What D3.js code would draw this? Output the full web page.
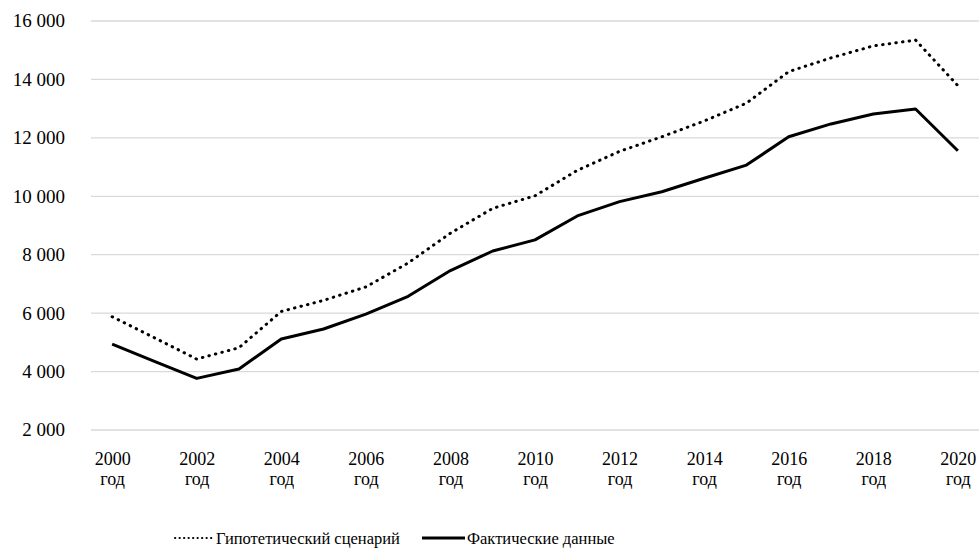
<!DOCTYPE html>
<html>
<head>
<meta charset="utf-8">
<script src="https://cdn.jsdelivr.net/npm/d3@7"></script>
<style>
  body { margin: 0; background: #fff; }
</style>
</head>
<body>
<div id="chart"></div>
<script>
const width = 979;
const height = 550;
const fontFamily = "'Liberation Serif', 'Times New Roman', Tinos, 'DejaVu Serif', serif";

const years = d3.range(2000, 2021);
const yTicks = [2000, 4000, 6000, 8000, 10000, 12000, 14000, 16000];
const labelYears = [2000, 2002, 2004, 2006, 2008, 2010, 2012, 2014, 2016, 2018, 2020];
const yearSuffix = "год";

const hypothetical = [5860, 5140, 4410, 4800, 6040, 6420, 6880, 7700, 8720, 9570, 10000,
                      10870, 11520, 12020, 12560, 13170, 14250, 14720, 15130, 15330, 13770];
const actual = [4920, 4330, 3750, 4070, 5100, 5440, 5950, 6560, 7440, 8110, 8490,
                9310, 9800, 10140, 10600, 11050, 12020, 12460, 12800, 12970, 11540];

const seriesNames = ["Гипотетический сценарий", "Фактические данные"];

const plotLeft = 91, plotRight = 979, plotTop = 20.5, plotBottom = 429.5;

const xScale = d3.scalePoint()
    .domain(years)
    .range([plotLeft, plotRight])
    .padding(0.5);

const yScale = d3.scaleLinear()
    .domain([2000, 16000])
    .range([plotBottom, plotTop]);

const fmt = v => d3.format(",")(v).replace(",", " ");

const svg = d3.select("#chart")
    .append("svg")
    .attr("width", width)
    .attr("height", height)
    .attr("font-family", fontFamily)
    .attr("font-size", 19);

// gridlines + y labels
const yAxis = d3.axisLeft(yScale)
    .tickValues(yTicks)
    .tickSize(-(plotRight - plotLeft))
    .tickPadding(26)
    .tickFormat(fmt);

const gy = svg.append("g")
    .attr("transform", "translate(" + plotLeft + ",0)")
    .call(yAxis)
    .attr("font-family", fontFamily)
    .attr("font-size", 19);
gy.select(".domain").remove();
gy.selectAll(".tick line").attr("stroke", "#d9d9d9").attr("stroke-width", 1.3);
gy.selectAll(".tick text").attr("fill", "#000").attr("dy", "0.34em");

// x labels, year on one line and "год" below
const xAxis = d3.axisBottom(xScale)
    .tickValues(labelYears)
    .tickSize(0)
    .tickFormat("");

const gx = svg.append("g")
    .attr("transform", "translate(0," + plotBottom + ")")
    .call(xAxis)
    .attr("font-family", fontFamily)
    .attr("font-size", 18);
gx.select(".domain").remove();
gx.selectAll(".tick").each(function(d) {
    const tick = d3.select(this);
    tick.append("text")
        .attr("text-anchor", "middle")
        .attr("fill", "#000")
        .attr("y", 35.5)
        .text(d);
    tick.append("text")
        .attr("text-anchor", "middle")
        .attr("fill", "#000")
        .attr("y", 55.5)
        .text(yearSuffix);
});

const line = d3.line()
    .x((d, i) => xScale(years[i]))
    .y(d => yScale(d));

svg.append("path")
    .datum(hypothetical)
    .attr("fill", "none")
    .attr("stroke", "#000")
    .attr("stroke-width", 3)
    .attr("stroke-linecap", "round")
    .attr("stroke-dasharray", "0.5 6.2")
    .attr("d", line);

svg.append("path")
    .datum(actual)
    .attr("fill", "none")
    .attr("stroke", "#000")
    .attr("stroke-width", 3)
    .attr("stroke-linejoin", "round")
    .attr("d", line);

// legend
const legend = svg.append("g").attr("transform", "translate(0,538)").attr("font-size", 16.5);

legend.append("line")
    .attr("x1", 175).attr("x2", 212)
    .attr("stroke", "#000").attr("stroke-width", 2)
    .attr("stroke-linecap", "round")
    .attr("stroke-dasharray", "0.3 4.2");
legend.append("text").attr("x", 216).attr("dy", "0.34em").text(seriesNames[0]);

legend.append("line")
    .attr("x1", 422).attr("x2", 465)
    .attr("stroke", "#000").attr("stroke-width", 3);
legend.append("text").attr("x", 467).attr("dy", "0.34em").text(seriesNames[1]);
</script>
</body>
</html>
